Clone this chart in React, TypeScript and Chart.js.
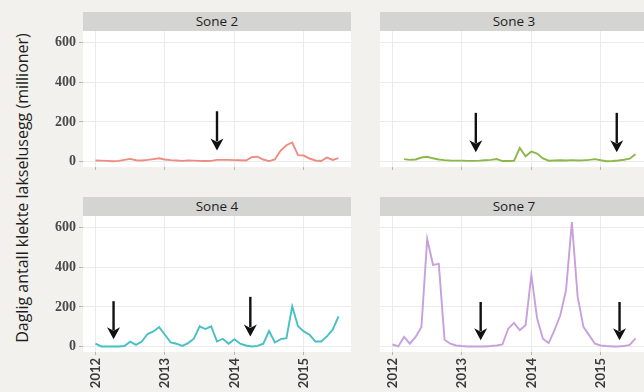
import React, { useEffect, useRef } from "react";
import { Chart, registerables } from "chart.js";

Chart.register(...registerables);

// Monthly observations, Jan 2012 – Jul 2015
const START_YEAR = 2012;
const MONTH_COUNT = 43;
const MONTH_LABELS: string[] = Array.from({ length: MONTH_COUNT }, (_, i) => {
  const y = START_YEAR + Math.floor(i / 12);
  const m = (i % 12) + 1;
  return `${y}-${String(m).padStart(2, "0")}`;
});

const SONE2: (number | null)[] = [
  5, 4, 3, 1, 3, 8, 13, 6, 5, 8, 12, 16, 10, 7, 5, 3, 5, 4, 3, 2, 3, 8, 8, 8, 7, 6, 5, 22, 24, 10,
  2, 10, 55, 82, 96, 32, 30, 15, 5, 2, 20, 8, 17,
];
const SONE3: (number | null)[] = [
  null, null, 12, 8, 10, 20, 24, 16, 10, 7, 5, 4, 4, 3, 3, 4, 6, 8, 12, 2, 2, 3, 68, 26, 50, 40,
  15, 4, 5, 6, 5, 7, 5, 6, 8, 12, 6, 1, 2, 5, 9, 14, 37,
];
const SONE4: (number | null)[] = [
  14, 0, 0, 0, 0, 2, 24, 8, 25, 63, 76, 98, 59, 20, 14, 3, 17, 39, 102, 88, 102, 25, 39, 14, 37,
  14, 5, 0, 3, 14, 78, 20, 37, 42, 203, 102, 76, 59, 25, 25, 51, 85, 152,
];
const SONE7: (number | null)[] = [
  10, 0, 48, 14, 48, 99, 544, 413, 418, 34, 14, 5, 2, 0, 0, 0, 0, 2, 5, 10, 90, 119, 82, 107, 362,
  141, 39, 17, 82, 158, 286, 629, 252, 99, 56, 14, 5, 2, 0, 0, 2, 8, 41,
];

const PANEL_TITLES = ["Sone 2", "Sone 3", "Sone 4", "Sone 7"];
const PANEL_COLORS = ["#ee8c82", "#8cb84a", "#45c0c4", "#c7a0dc"];

const YEAR_TICKS = [2012, 2013, 2014, 2015];
const Y_TICKS = [0, 200, 400, 600];
const X_MIN = 2011.82;
const X_MAX = 2015.68;
const Y_MIN = -28;
const Y_MAX = 660;

type Arrow = { x: number; top: number; tip: number };
const ARROWS_SONE2: Arrow[] = [{ x: 2013.75, top: 254, tip: 56 }];
const ARROWS_SONE3: Arrow[] = [
  { x: 2013.2, top: 246, tip: 46 },
  { x: 2015.23, top: 246, tip: 46 },
];
const ARROWS_SONE4: Arrow[] = [
  { x: 2012.26, top: 229, tip: 36 },
  { x: 2014.23, top: 251, tip: 51 },
];
const ARROWS_SONE7: Arrow[] = [
  { x: 2013.27, top: 225, tip: 32 },
  { x: 2015.27, top: 225, tip: 32 },
];

const Y_TITLE = "Daglig antall klekte lakselusegg (millioner)";

const toDecimalYear = (label: string) => {
  const [y, m] = label.split("-").map(Number);
  return y + (m - 1) / 12;
};

const panelBgPlugin = {
  id: "panelBg",
  beforeDraw(chart: any) {
    const { ctx, chartArea } = chart;
    if (!chartArea) return;
    ctx.save();
    ctx.fillStyle = "#ffffff";
    ctx.fillRect(chartArea.left, chartArea.top, chartArea.right - chartArea.left, chartArea.bottom - chartArea.top);
    ctx.restore();
  },
};

const arrowPlugin = {
  id: "arrows",
  afterDatasetsDraw(chart: any, _args: any, opts: any) {
    const items: Arrow[] = (opts && opts.items) || [];
    const { ctx } = chart;
    const xs = chart.scales.x;
    const ys = chart.scales.y;
    ctx.save();
    ctx.strokeStyle = "#111111";
    ctx.fillStyle = "#111111";
    ctx.lineWidth = 2.4;
    for (const a of items) {
      const px = xs.getPixelForValue(a.x);
      const pTop = ys.getPixelForValue(a.top);
      const pTip = ys.getPixelForValue(a.tip);
      const headH = 12;
      const headW = 6.5;
      ctx.beginPath();
      ctx.moveTo(px, pTop);
      ctx.lineTo(px, pTip - headH + 3);
      ctx.stroke();
      ctx.beginPath();
      ctx.moveTo(px, pTip);
      ctx.lineTo(px - headW, pTip - headH);
      ctx.lineTo(px, pTip - headH + 3.5);
      ctx.lineTo(px + headW, pTip - headH);
      ctx.closePath();
      ctx.fill();
    }
    ctx.restore();
  },
};

const PLOT_W = 268;
const PLOT_H = 136;

type PanelProps = {
  title: string;
  values: (number | null)[];
  color: string;
  arrows: Arrow[];
  plotLeft: number;
  plotTop: number;
  showY: boolean;
  showX: boolean;
};

function Panel({ title, values, color, arrows, plotLeft, plotTop, showY, showX }: PanelProps) {
  const ref = useRef<HTMLCanvasElement | null>(null);
  const yAxisW = showY ? 43 : 0;
  const xAxisH = showX ? 392 - (plotTop + PLOT_H) : 4;
  const canvasW = yAxisW + PLOT_W;
  const canvasH = PLOT_H + xAxisH;

  useEffect(() => {
    if (!ref.current) return;
    const points = MONTH_LABELS.map((lab, i) => ({ x: toDecimalYear(lab), y: values[i] }));
    const chart = new Chart(ref.current, {
      type: "line",
      data: {
        datasets: [
          {
            label: title,
            data: points as any,
            borderColor: color,
            borderWidth: 1.9,
            pointRadius: 0,
            tension: 0,
            spanGaps: false,
          },
        ],
      },
      options: {
        animation: false,
        responsive: false,
        maintainAspectRatio: false,
        layout: { padding: 0 },
        plugins: {
          legend: { display: false },
          tooltip: { enabled: false },
          title: { display: false },
          arrows: { items: arrows },
        } as any,
        scales: {
          x: {
            type: "linear",
            min: X_MIN,
            max: X_MAX,
            afterBuildTicks: (axis: any) => {
              axis.ticks = YEAR_TICKS.map((v) => ({ value: v }));
            },
            afterFit: (s: any) => {
              s.height = xAxisH;
              s.paddingLeft = 0;
              s.paddingRight = 0;
            },
            border: { display: false },
            grid: {
              color: "#ebebeb",
              lineWidth: 1,
              drawTicks: true,
              tickLength: 3,
              tickColor: "#b5b5b5",
            },
            ticks: {
              display: showX,
              autoSkip: false,
              minRotation: 90,
              maxRotation: 90,
              padding: 3,
              color: "#3a3a3a",
              font: { family: "Lato, sans-serif", size: 13, weight: "bold" },
              callback: (v: any) => String(v),
            },
          },
          y: {
            type: "linear",
            min: Y_MIN,
            max: Y_MAX,
            afterBuildTicks: (axis: any) => {
              axis.ticks = Y_TICKS.map((v) => ({ value: v }));
            },
            afterFit: (s: any) => {
              s.width = yAxisW;
              s.paddingTop = 0;
              s.paddingBottom = 0;
            },
            border: { display: false },
            grid: {
              color: "#ebebeb",
              lineWidth: 1,
              drawTicks: showY,
              tickLength: 4,
              tickColor: "#b5b5b5",
            },
            ticks: {
              display: showY,
              padding: 3,
              color: "#4a4a4a",
              font: { family: "'Liberation Serif', 'Times New Roman', serif", size: 14, weight: "bold" },
              callback: (v: any) => String(v),
            },
          },
        },
      },
      plugins: [panelBgPlugin, arrowPlugin],
    });
    return () => chart.destroy();
  }, [title, values, color, arrows, showX, showY, xAxisH, yAxisW]);

  return (
    <>
      <div
        style={{
          position: "absolute",
          left: plotLeft,
          top: plotTop - 19,
          width: PLOT_W,
          height: 19,
          background: "#d4d4d2",
          color: "#1e1e1e",
          fontFamily: "'Open Sans', sans-serif",
          fontSize: 13.5,
          lineHeight: "19px",
          textAlign: "center",
        }}
      >
        {title}
      </div>
      <canvas
        ref={ref}
        width={canvasW}
        height={canvasH}
        style={{ position: "absolute", left: plotLeft - yAxisW, top: plotTop, width: canvasW, height: canvasH }}
      />
    </>
  );
}

export default function App() {
  return (
    <div
      style={{
        position: "fixed",
        left: 0,
        top: 0,
        width: 644,
        height: 392,
        overflow: "hidden",
        background: "#f2f1ed",
      }}
    >
      <div
        style={{
          position: "absolute",
          left: 22 - 170,
          top: 188 - 10,
          width: 340,
          height: 20,
          lineHeight: "20px",
          textAlign: "center",
          transform: "rotate(-90deg)",
          fontFamily: "'Open Sans', sans-serif",
          fontSize: 16,
          color: "#1e1e1e",
          whiteSpace: "nowrap",
        }}
      >
        {Y_TITLE}
      </div>
      <Panel title={PANEL_TITLES[0]} values={SONE2} color={PANEL_COLORS[0]} arrows={ARROWS_SONE2} plotLeft={83} plotTop={31} showY showX={false} />
      <Panel title={PANEL_TITLES[1]} values={SONE3} color={PANEL_COLORS[1]} arrows={ARROWS_SONE3} plotLeft={380} plotTop={31} showY={false} showX={false} />
      <Panel title={PANEL_TITLES[2]} values={SONE4} color={PANEL_COLORS[2]} arrows={ARROWS_SONE4} plotLeft={83} plotTop={216} showY showX />
      <Panel title={PANEL_TITLES[3]} values={SONE7} color={PANEL_COLORS[3]} arrows={ARROWS_SONE7} plotLeft={380} plotTop={216} showY={false} showX />
    </div>
  );
}
